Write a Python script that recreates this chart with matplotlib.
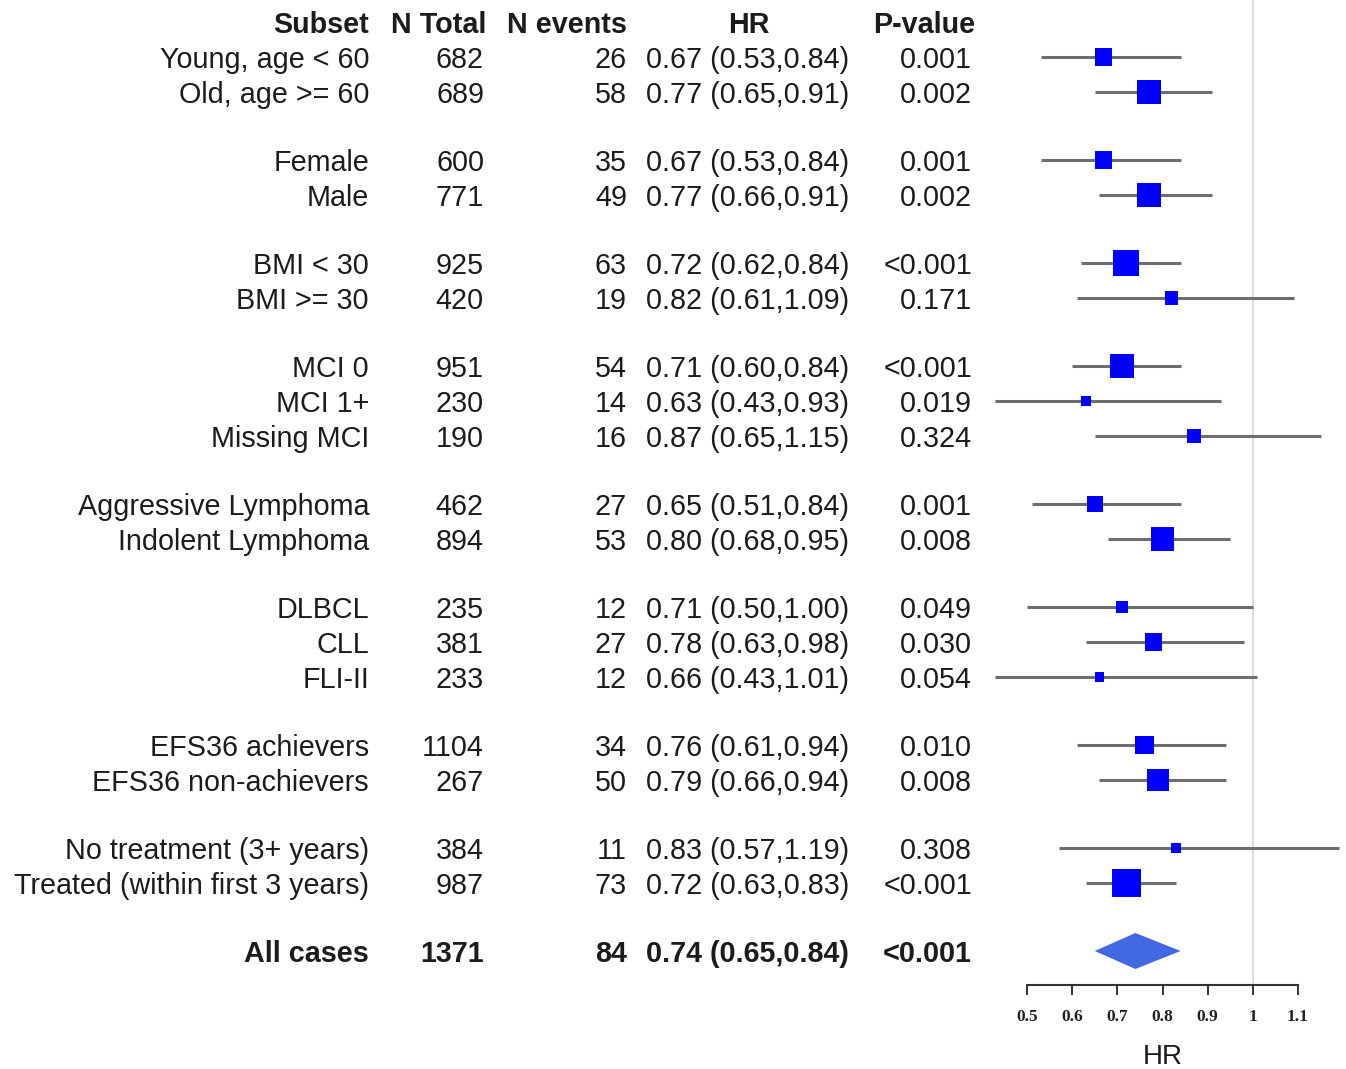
import numpy as np
import matplotlib
matplotlib.use("Agg")
import matplotlib.pyplot as plt

plt.rcParams['font.family'] = ['Liberation Sans', 'DejaVu Sans']

# Підгрупи (порожній рядок між групами задано розмірами груп)
subsets = [
    "Young, age < 60", "Old, age >= 60",
    "Female", "Male",
    "BMI < 30", "BMI >= 30",
    "MCI 0", "MCI 1+", "Missing MCI",
    "Aggressive Lymphoma", "Indolent Lymphoma",
    "DLBCL", "CLL", "FLI-II",
    "EFS36 achievers", "EFS36 non-achievers",
    "No treatment (3+ years)", "Treated (within first 3 years)",
]
group_sizes = [2, 2, 2, 3, 2, 3, 2, 2]

n_total = [682, 689, 600, 771, 925, 420, 951, 230, 190, 462, 894,
           235, 381, 233, 1104, 267, 384, 987]
n_events = [26, 58, 35, 49, 63, 19, 54, 14, 16, 27, 53,
            12, 27, 12, 34, 50, 11, 73]
hr = [0.67, 0.77, 0.67, 0.77, 0.72, 0.82, 0.71, 0.63, 0.87, 0.65, 0.80,
      0.71, 0.78, 0.66, 0.76, 0.79, 0.83, 0.72]
hr_lo = [0.53, 0.65, 0.53, 0.66, 0.62, 0.61, 0.60, 0.43, 0.65, 0.51, 0.68,
         0.50, 0.63, 0.43, 0.61, 0.66, 0.57, 0.63]
hr_hi = [0.84, 0.91, 0.84, 0.91, 0.84, 1.09, 0.84, 0.93, 1.15, 0.84, 0.95,
         1.00, 0.98, 1.01, 0.94, 0.94, 1.19, 0.83]
p_values = ["0.001", "0.002", "0.001", "0.002", "<0.001", "0.171",
            "<0.001", "0.019", "0.324", "0.001", "0.008",
            "0.049", "0.030", "0.054", "0.010", "0.008", "0.308", "<0.001"]

# Загальний результат
all_label = "All cases"
all_total = 1371
all_events = 84
all_hr, all_lo, all_hi = 0.74, 0.65, 0.84
all_p = "<0.001"

x_ticks = [0.5, 0.6, 0.7, 0.8, 0.9, 1, 1.1]
x_tick_labels = ["0.5", "0.6", "0.7", "0.8", "0.9", "1", "1.1"]

# ---- розмітка (у пікселях) ----
W, H = 1346, 1069
row_step, gap_step, y_start = 35, 68, 57
ys = []
y = y_start
for g in group_sizes:
    for k in range(g):
        ys.append(y)
        y += row_step
    y += gap_step - row_step
y_all = ys[-1] + gap_step

# відображення HR -> піксель
px_per_unit = 451.7
x_left = 0.5 - 1027 / px_per_unit
x_right = x_left + W / px_per_unit

fig = plt.figure(figsize=(W / 100, H / 100), dpi=100)

# таблиця
tax = fig.add_axes([0, 0, 1, 1])
tax.set_xlim(0, W)
tax.set_ylim(H, 0)
tax.axis('off')

# лісовий графік
ax = fig.add_axes([0, 0, 1, 1])
ax.set_xlim(x_left, x_right)
ax.set_ylim(H, 0)
ax.axis('off')
ax.patch.set_alpha(0)

fs = 20.7
tc = '#1c1c1c'
dy = 3  # зсув тексту вниз
col_subset, col_total, col_events, col_hr, col_p = 369, 484, 627, 646, 972

hdr_y = 22 + dy
tax.text(col_subset, hdr_y, "Subset", ha='right', va='center', fontsize=fs, fontweight='bold', color=tc)
tax.text(col_total + 2, hdr_y, "N Total", ha='right', va='center', fontsize=fs, fontweight='bold', color=tc)
tax.text(col_events, hdr_y, "N events", ha='right', va='center', fontsize=fs, fontweight='bold', color=tc)
tax.text(749, hdr_y, "HR", ha='center', va='center', fontsize=fs, fontweight='bold', color=tc)
tax.text(924, hdr_y, "P-value", ha='center', va='center', fontsize=fs, fontweight='bold', color=tc)

for i, name in enumerate(subsets):
    yy = ys[i] + dy
    tax.text(col_subset, yy, name, ha='right', va='center', fontsize=fs, color=tc)
    tax.text(col_total, yy, str(n_total[i]), ha='right', va='center', fontsize=fs, color=tc)
    tax.text(col_events, yy, str(n_events[i]), ha='right', va='center', fontsize=fs, color=tc)
    tax.text(col_hr, yy, f"{hr[i]:.2f} ({hr_lo[i]:.2f},{hr_hi[i]:.2f})",
             ha='left', va='center', fontsize=fs, color=tc)
    tax.text(col_p, yy, p_values[i], ha='right', va='center', fontsize=fs, color=tc)

bold = dict(va='center', fontsize=fs, fontweight='bold', color=tc)
tax.text(col_subset, y_all + dy, all_label, ha='right', **bold)
tax.text(col_total, y_all + dy, str(all_total), ha='right', **bold)
tax.text(col_events, y_all + dy, str(all_events), ha='right', **bold)
tax.text(col_hr, y_all + dy, f"{all_hr:.2f} ({all_lo:.2f},{all_hi:.2f})", ha='left', **bold)
tax.text(col_p, y_all + dy, all_p, ha='right', **bold)

# лінія HR = 1
ax.vlines(1.0, 0, 985, color='#dcdcdc', lw=1.5, zorder=0)

# довірчі інтервали та квадрати (розмір ~ обернена ширина ДІ в лог-шкалі)
hr_a = np.array(hr)
lo_a = np.array(hr_lo)
hi_a = np.array(hr_hi)
ax.hlines(ys, lo_a, hi_a, color='#6e6e6e', lw=2.2, zorder=2)
side_px = 7.9 / np.log(hi_a / lo_a)
side_pt = side_px * 72 / 100
ax.scatter(hr_a, ys, marker='s', s=side_pt ** 2, color='#0000ff',
           edgecolors='none', zorder=3)

# ромб для всіх випадків
dh = 18
ax.fill([all_lo, all_hr, all_hi, all_hr], [y_all, y_all - dh, y_all, y_all + dh],
        color='#4169e1', lw=0, zorder=3)

# вісь HR
xa = fig.add_axes([1027 / W, (H - 985) / H, 271 / W, 0.0001])
xa.set_xlim(0.5, 1.1)
xa.set_yticks([])
for s in ['top', 'left', 'right']:
    xa.spines[s].set_visible(False)
xa.spines['bottom'].set_color('#333333')
xa.spines['bottom'].set_linewidth(1.5)
xa.patch.set_alpha(0)
xa.set_xticks(x_ticks)
xa.set_xticklabels(x_tick_labels, fontsize=12.5, fontweight='bold',
                   family='Liberation Serif')
xa.tick_params(axis='x', direction='out', length=7, width=1.4,
               color='#333333', pad=10, labelcolor='#222222')
xa.set_xlabel("HR", fontsize=20, color=tc, labelpad=14)

fig.savefig("out.png", dpi=100)
